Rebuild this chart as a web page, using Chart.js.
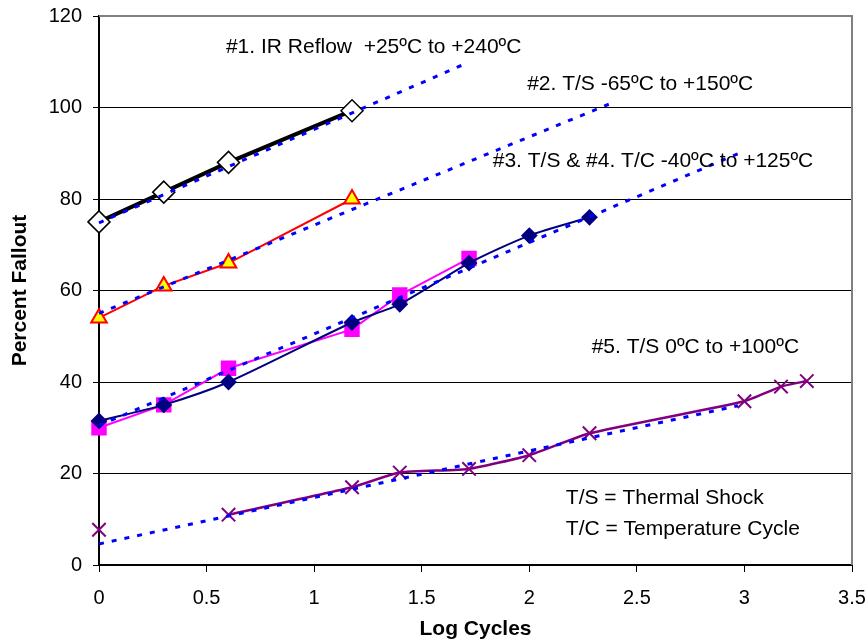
<!DOCTYPE html>
<html>
<head>
<meta charset="utf-8">
<script src="https://cdn.jsdelivr.net/npm/chart.js@4.4.0/dist/chart.umd.min.js"></script>
<style>
  html, body { margin: 0; padding: 0; background: #fff; }
  #wrap { width: 865px; height: 642px; }
</style>
</head>
<body>
<div id="wrap"><canvas id="chart" width="865" height="642"></canvas></div>
<script>
// data (x = log10 of cycles, y = percent fallout)
const irX = [0, 0.301, 0.602, 1.176];
const irY = [75, 81.5, 88, 99.3];
const ts65X = [0, 0.301, 0.602, 1.176];
const ts65Y = [54, 61, 66, 80];
const ts40X = [0, 0.301, 0.602, 1.176, 1.398, 1.72, 2, 2.28];
const ts40Y = [31.5, 35, 40, 53, 57, 66, 72, 76];
const tc40X = [0, 0.301, 0.602, 1.176, 1.398, 1.72];
const tc40Y = [30, 35, 43, 51.5, 59, 67];
const ts0X = [0, 0.602, 1.176, 1.398, 1.72, 2, 2.28, 3, 3.17, 3.29];
const ts0Y = [7.7, 11, 17, 20.2, 21, 24, 28.8, 35.8, 39, 40.2];

// fitted trend lines (dotted blue)
const trend1X = [0, 1.69];
const trend1Y = [74.8, 109.3];
const trend2X = [0, 2.4];
const trend2Y = [55, 101.3];
const trend3X = [0, 3.0];
const trend3Y = [30.5, 90.5];
const trend5X = [0, 2.97];
const trend5Y = [4.6, 34.8];

const xTicks = [0, 0.5, 1, 1.5, 2, 2.5, 3, 3.5];
const yTicks = [0, 20, 40, 60, 80, 100, 120];

const notes = [
  { text: '#1. IR Reflow  +25ºC to +240ºC', x: 0.59, y: 113.2 },
  { text: '#2. T/S -65ºC to +150ºC', x: 1.99, y: 105.1 },
  { text: '#3. T/S & #4. T/C -40ºC to +125ºC', x: 1.83, y: 88.3 },
  { text: '#5. T/S 0ºC to +100ºC', x: 2.29, y: 47.6 },
  { text: 'T/S = Thermal Shock', x: 2.17, y: 14.6 },
  { text: 'T/C = Temperature Cycle', x: 2.17, y: 7.9 }
];

const FONT = '"Liberation Sans", Arial, sans-serif';

function pts(xs, ys){
  return xs.map((x, i) => ({ x: x, y: ys[i] }));
}

// #5 has no line between the first two points
const ts0Pts = pts(ts0X, ts0Y);
ts0Pts.splice(1, 0, { x: 0.3, y: null });

function trend(xs, ys){
  return {
    data: pts(xs, ys),
    showLine: true,
    clip: false,
    borderColor: '#0000ff',
    borderWidth: 3,
    borderDash: [5, 8],
    pointRadius: 0,
    order: 0
  };
}

// text notes + grey frame on top/right
const notesPlugin = {
  id: 'notes',
  afterDatasetsDraw(chart){
    const ctx = chart.ctx;
    const xs = chart.scales.x, ys = chart.scales.y;
    const a = chart.chartArea;
    ctx.save();
    ctx.strokeStyle = '#808080';
    ctx.lineWidth = 2;
    ctx.beginPath();
    ctx.moveTo(a.left, a.top);
    ctx.lineTo(a.right, a.top);
    ctx.lineTo(a.right, a.bottom);
    ctx.stroke();
    ctx.fillStyle = '#000';
    ctx.font = '21px ' + FONT;
    ctx.textAlign = 'left';
    ctx.textBaseline = 'middle';
    notes.forEach(n => {
      ctx.fillText(n.text, xs.getPixelForValue(n.x), ys.getPixelForValue(n.y));
    });
    ctx.restore();
  }
};

new Chart(document.getElementById('chart'), {
  type: 'scatter',
  data: {
    datasets: [
      trend(trend1X, trend1Y),
      trend(trend2X, trend2Y),
      trend(trend3X, trend3Y),
      trend(trend5X, trend5Y),
      {
        data: pts(irX, irY), showLine: true, clip: false,
        borderColor: '#000', borderWidth: 4,
        pointStyle: 'rectRot', pointRadius: 11,
        pointBackgroundColor: '#fff', pointBorderColor: '#000', pointBorderWidth: 1.5,
        order: 1
      },
      {
        data: pts(ts65X, ts65Y), showLine: true, clip: false,
        borderColor: '#ff0000', borderWidth: 2,
        pointStyle: 'triangle', pointRadius: 9,
        pointBackgroundColor: '#ffff00', pointBorderColor: '#ff0000', pointBorderWidth: 2,
        order: 1
      },
      {
        data: pts(ts40X, ts40Y), showLine: true, clip: false, tension: 0.25,
        borderColor: '#000080', borderWidth: 2,
        pointStyle: 'rectRot', pointRadius: 7,
        pointBackgroundColor: '#000080', pointBorderColor: '#000080',
        order: 1
      },
      {
        data: pts(tc40X, tc40Y), showLine: true, clip: false,
        borderColor: '#ff00ff', borderWidth: 2,
        pointStyle: 'rect', pointRadius: 9.5,
        pointBackgroundColor: '#ff00ff', pointBorderColor: '#ff00ff',
        order: 1
      },
      {
        data: ts0Pts, showLine: true, clip: false, spanGaps: false, tension: 0.15,
        borderColor: '#800080', borderWidth: 2.5,
        pointStyle: 'crossRot', pointRadius: 9.5,
        pointBorderColor: '#800080', pointBorderWidth: 2,
        order: 1
      }
    ]
  },
  options: {
    responsive: false,
    animation: false,
    layout: { padding: { left: 0, right: 13, top: 16, bottom: 0 } },
    plugins: {
      legend: { display: false },
      tooltip: { enabled: false }
    },
    scales: {
      x: {
        type: 'linear', min: 0, max: 3.5,
        afterBuildTicks: s => { s.ticks = xTicks.map(v => ({ value: v })); },
        afterFit: s => { s.height = 77; s.paddingLeft = 0; s.paddingRight = 0; },
        grid: { drawOnChartArea: false, drawTicks: true, tickLength: 7, color: '#000' },
        border: { color: '#000', width: 2 },
        ticks: { color: '#000', font: { family: FONT, size: 20 }, padding: 14, callback: v => String(v) },
        title: { display: true, text: 'Log Cycles', color: '#000', font: { family: FONT, size: 21, weight: 'bold' }, padding: { top: 0, bottom: 0 } }
      },
      y: {
        min: 0, max: 120,
        afterBuildTicks: s => { s.ticks = yTicks.map(v => ({ value: v })); },
        afterFit: s => { s.width = 99; s.paddingTop = 0; s.paddingBottom = 0; },
        grid: { color: '#000', lineWidth: 1, drawTicks: true, tickLength: 6 },
        border: { color: '#000', width: 2 },
        ticks: { color: '#000', font: { family: FONT, size: 20 }, padding: 11 },
        title: { display: true, text: 'Percent Fallout', color: '#000', font: { family: FONT, size: 21, weight: 'bold' }, padding: { top: 8, bottom: 0 } }
      }
    }
  },
  plugins: [notesPlugin]
});
</script>
</body>
</html>
